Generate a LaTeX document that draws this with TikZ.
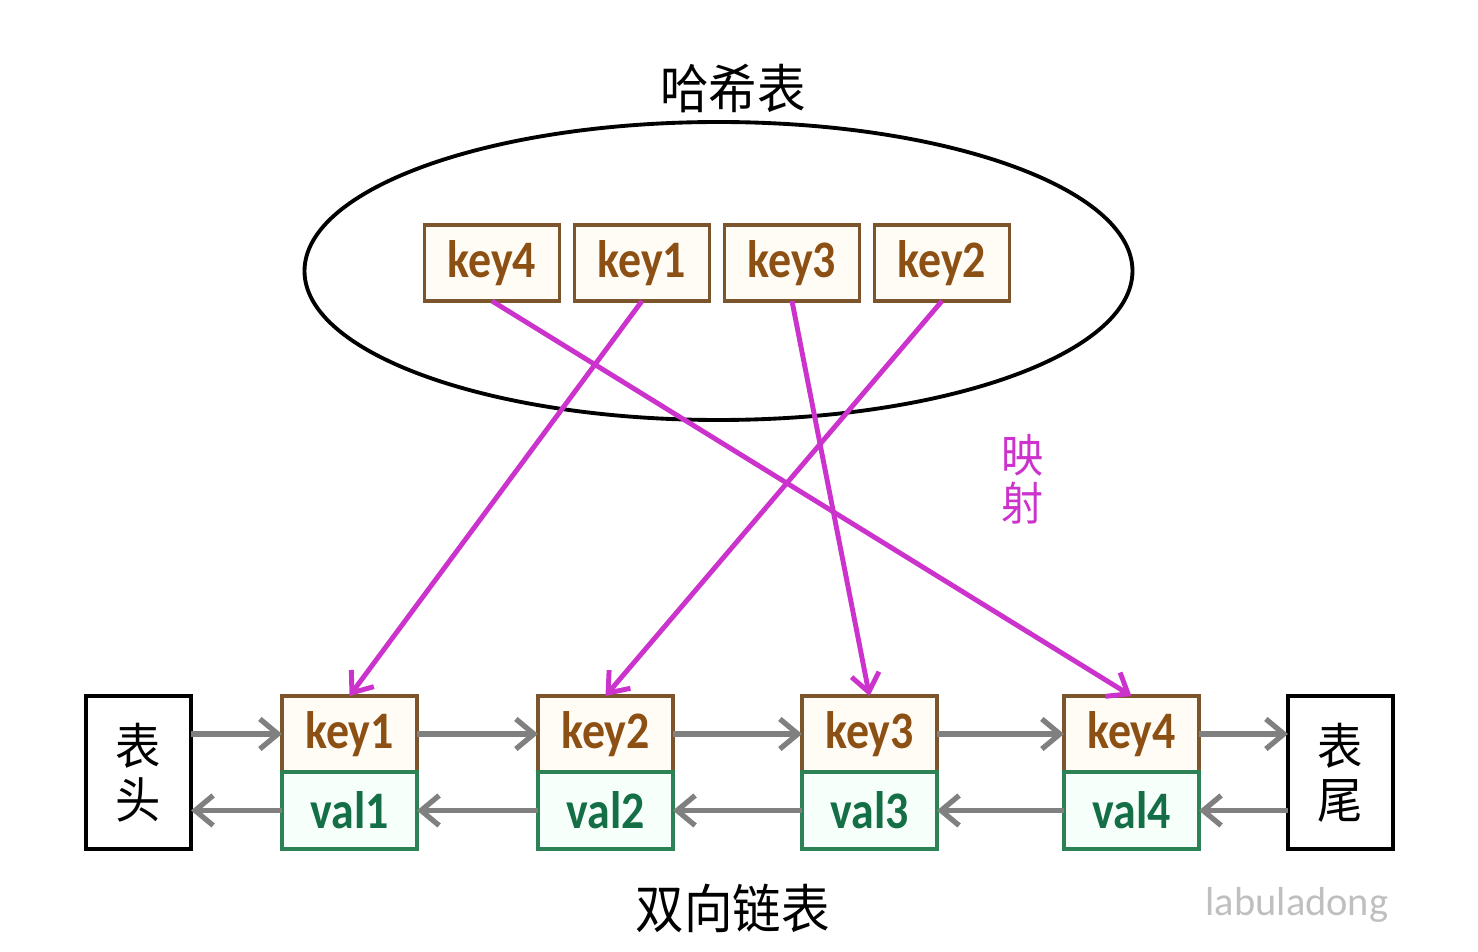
\documentclass[tikz,border=0pt]{standalone}
\usepackage{fontspec}
\setmainfont{Carlito}
\newfontfamily\keyfont{Carlito}[FakeStretch=0.87]
\newfontfamily\cjk{Noto Sans CJK SC}[FakeStretch=0.92]
\usetikzlibrary{arrows.meta,positioning,shapes.geometric}
\definecolor{keyline}{RGB}{125,85,45}
\definecolor{keytext}{RGB}{140,80,20}
\definecolor{keyfill}{RGB}{255,252,245}
\definecolor{valline}{RGB}{45,130,85}
\definecolor{valtext}{RGB}{20,110,70}
\definecolor{valfill}{RGB}{246,255,250}
\definecolor{mapmag}{RGB}{204,51,204}
\definecolor{linkgray}{RGB}{128,128,128}
\newcommand{\kvfnt}{\keyfont\bfseries\fontsize{15}{18}\selectfont}
\newcommand{\cjkfnt}{\cjk\fontsize{14}{15.4}\selectfont}

\begin{document}
\begin{tikzpicture}
		[x=0.1mm, y=-0.1mm, inner sep=0pt, outer sep=0pt,
		hkey/.style		= {draw=keyline, line width=0.9pt, fill=keyfill, text=keytext, font=\kvfnt, minimum width=13.5mm, minimum height=7.6mm},
		hval/.style		= {draw=valline, line width=0.9pt, fill=valfill, text=valtext, font=\kvfnt, minimum width=13.5mm, minimum height=7.7mm},
		endbox/.style	= {draw, line width=1pt, minimum width=10.5mm, minimum height=15.3mm, font=\cjkfnt, align=center},
		link/.style		= {draw=linkgray, line width=1.5pt, -{Straight Barb[length=1.8mm,width=3mm]}},
		map/.style		= {draw=mapmag, line width=1.4pt, -{Straight Barb[length=1.8mm,width=2.8mm]}}]
		
		\useasboundingbox (0,0) rectangle (1478,952);
		
		% hash table
		\node [ellipse, draw, line width=1.1pt, minimum width=82.8mm, minimum height=29.8mm] at (718.5,271) (ht) {};
		\node [font=\cjk\fontsize{15}{15}\selectfont] at (733,88) (title) {哈希表};
		
		\node [hkey] at (492,263)				(hk4)	{key4};
		\node [hkey] [right = 1.5mm of hk4]	(hk1)	{key1};
		\node [hkey] [right = 1.5mm of hk1]	(hk3)	{key3};
		\node [hkey] [right = 1.5mm of hk3]	(hk2)	{key2};
		
		% doubly linked list
		\node [endbox] at (138.5,772.5)			(hd)	{表\\头};
		\node [endbox] at (1340.5,772.5)		(tl)	{表\\尾};
		
		\node [hkey] at (349.5,734)				(k1)	{key1};
		\node [hkey] [right = 12.1mm of k1]	(k2)	{key2};
		\node [hkey] [right = 12.9mm of k2]	(k3)	{key3};
		\node [hkey] [right = 12.7mm of k3]	(k4)	{key4};
		\node [hval] [below = 0mm of k1]		(v1)	{val1};
		\node [hval] [below = 0mm of k2]		(v2)	{val2};
		\node [hval] [below = 0mm of k3]		(v3)	{val3};
		\node [hval] [below = 0mm of k4]		(v4)	{val4};
		
		\node [font=\cjk\fontsize{15}{15}\selectfont] at (733,908) (list) {双向链表};
		
		\draw [link] (hd.east |- k1) -- (k1.west);
		\draw [link] (k1.east) -- (k2.west);
		\draw [link] (k2.east) -- (k3.west);
		\draw [link] (k3.east) -- (k4.west);
		\draw [link] (k4.east) -- (tl.west |- k4);
		\draw [link] (tl.west |- v4) -- (v4.east);
		\draw [link] (v4.west) -- (v3.east);
		\draw [link] (v3.west) -- (v2.east);
		\draw [link] (v2.west) -- (v1.east);
		\draw [link] (v1.west) -- (hd.east |- v1);
		
		% mapping
		\draw [map] (hk4.south) -- (k4.north);
		\draw [map] (hk1.south) -- (k1.north);
		\draw [map] (hk3.south) -- (k3.north);
		\draw [map] (hk2.south) -- (k2.north);
		\node [text=mapmag, font=\cjk\fontsize{13}{13.7}\selectfont, align=center] at (1023,479) (mp) {映\\射};
		
		\node [text=gray!50, font=\fontsize{11.5}{12}\selectfont] at (1297,905) (wm) {labuladong};
		\end{tikzpicture}
\end{document}
